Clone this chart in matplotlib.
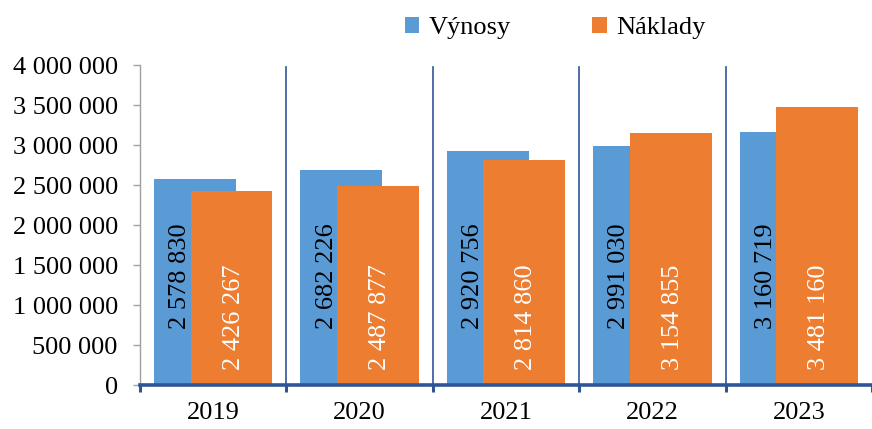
import matplotlib.pyplot as plt
import matplotlib.ticker as mticker
import numpy as np

# Data
years = ['2019', '2020', '2021', '2022', '2023']
vynosy = [2578830, 2682226, 2920756, 2991030, 3160719]
naklady = [2426267, 2487877, 2814860, 3154855, 3481160]

blue = '#5B9BD5'
orange = '#ED7D31'
line_col = '#2F5597'

plt.rcParams['font.family'] = ['Liberation Serif', 'DejaVu Serif']


def fmt_space(v):
    return f'{int(v):,}'.replace(',', ' ')


fig = plt.figure(figsize=(8.72, 4.29), dpi=100)
ax = fig.add_axes([140 / 872, 1 - 385 / 429, 1 - 140 / 872, (385 - 65) / 429])

x = np.arange(len(years))
w = 0.56
off = 0.125
b1 = ax.bar(x - off, vynosy, w, color=blue, label='Výnosy', zorder=2)
b2 = ax.bar(x + off, naklady, w, color=orange, label='Náklady', zorder=3)

# data labels, rotated
for xi, v in zip(x, vynosy):
    ax.text(xi - off - 0.1, 700000, fmt_space(v), rotation=90, ha='center', va='bottom',
            fontsize=19, color='black', zorder=4)
for xi, v in zip(x, naklady):
    ax.text(xi + off + 0.015, 190000, fmt_space(v), rotation=90, ha='center', va='bottom',
            fontsize=19, color='white', zorder=4)

# category separators
for b in np.arange(0.5, len(years) - 0.5, 1):
    ax.axvline(b, ymax=0.995, color=line_col, lw=1.2, zorder=1)

ax.set_xlim(-0.5, -0.5 + (872 - 140) / 148.5)
ax.set_ylim(0, 4000000)
ax.yaxis.set_major_locator(mticker.MultipleLocator(500000))
ax.yaxis.set_major_formatter(mticker.FuncFormatter(lambda v, p: fmt_space(v)))

ax.set_xticks(x)
ax.set_xticklabels(years)
ax.set_xticks(np.arange(-0.5, len(years), 1), minor=True)
ax.tick_params(axis='x', which='major', length=0, pad=12, labelsize=19)
ax.tick_params(axis='x', which='minor', length=5, width=2.2, color=line_col, direction='out')
ax.tick_params(axis='y', length=5, width=1, color='#A0A0A0', pad=11, labelsize=19)

for s in ['top', 'right']:
    ax.spines[s].set_visible(False)
ax.spines['left'].set_color('#A0A0A0')
ax.spines['left'].set_linewidth(1)
ax.spines['bottom'].set_color(line_col)
ax.spines['bottom'].set_linewidth(2.6)
ax.spines['bottom'].set_zorder(5)

fig.legend(handles=[b1, b2], loc='center', bbox_to_anchor=(555 / 872, 1 - 28 / 429), ncol=2,
           frameon=False, fontsize=19, handlelength=0.55, handleheight=0.55,
           handletextpad=0.35, columnspacing=3.1)

plt.savefig('out.png', dpi=100)
plt.close()
